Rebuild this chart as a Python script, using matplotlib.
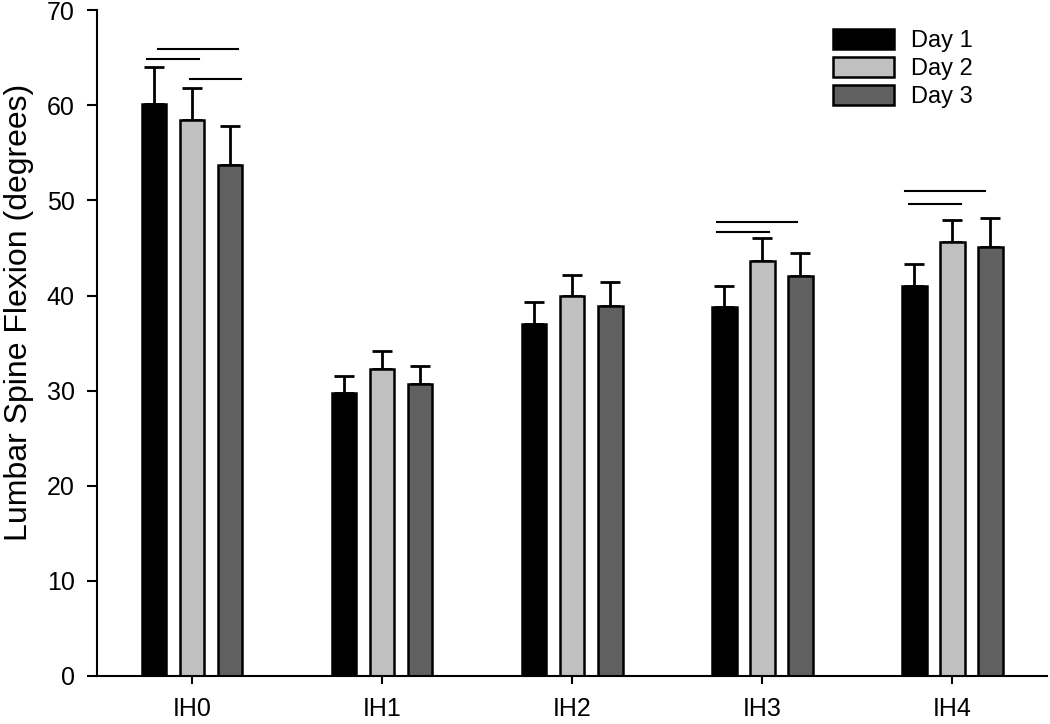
import numpy as np
import matplotlib
matplotlib.use("Agg")
import matplotlib.pyplot as plt

plt.rcParams['font.family'] = ['Liberation Sans', 'DejaVu Sans']

# --- data ---
groups = ["IH0", "IH1", "IH2", "IH3", "IH4"]
days = ["Day 1", "Day 2", "Day 3"]
day1 = [60.1, 29.7, 37.0, 38.8, 41.0]
day2 = [58.5, 32.3, 40.0, 43.6, 45.6]
day3 = [53.7, 30.7, 38.9, 42.0, 45.1]
err1 = [3.9, 1.8, 2.3, 2.2, 2.3]
err2 = [3.3, 1.9, 2.2, 2.4, 2.3]
err3 = [4.1, 1.9, 2.5, 2.5, 3.0]
colors = ["#000000", "#c0c0c0", "#606060"]

# significance bars: (group index, x start offset, x end offset, y)
sig_group = [0, 0, 0, 3, 3, 4, 4]
sig_x0 = [-0.237, -0.18, -0.01, -0.237, -0.237, -0.247, -0.226]
sig_x1 = [0.037, 0.24, 0.26, 0.184, 0.037, 0.174, 0.047]
sig_y = [64.85, 65.9, 62.75, 47.7, 46.7, 51.0, 49.6]

fig = plt.figure(figsize=(10.5, 7.24), dpi=100)
ax = fig.add_axes([0.0924, 0.0663, 0.905, 0.9197])

x = np.arange(len(groups))
offsets = [-0.2, 0.0, 0.2]
width = 0.13
for vals, errs, col, off, lab in zip([day1, day2, day3], [err1, err2, err3],
                                     colors, offsets, days):
    ax.bar(x + off, vals, width, color=col, edgecolor="black", linewidth=1.8,
           label=lab, zorder=2)
    ax.errorbar(x + off, vals, yerr=[np.zeros(len(vals)), errs], fmt="none",
                ecolor="black", elinewidth=2, capsize=7, capthick=2, zorder=1)

for g, a, b, yy in zip(sig_group, sig_x0, sig_x1, sig_y):
    ax.plot([g + a, g + b], [yy, yy], color="black", linewidth=1.5)

ax.set_xlim(-0.5, 4.5)
ax.set_ylim(0, 70)
ax.set_yticks(np.arange(0, 71, 10))
ax.set_xticks(x)
ax.set_xticklabels(groups)
ax.tick_params(axis="y", labelsize=18, length=7, width=1.5, direction="out", pad=9)
ax.tick_params(axis="x", labelsize=18, length=6, width=1.5, direction="out", pad=9)
ax.set_ylabel("Lumbar Spine Flexion (degrees)", fontsize=23)
ax.yaxis.set_label_coords(-0.066, 0.546)

for s in ["top", "right"]:
    ax.spines[s].set_visible(False)
for s in ["left", "bottom"]:
    ax.spines[s].set_linewidth(1.5)

ax.legend(loc="upper left", bbox_to_anchor=(0.774, 0.972), frameon=False,
          fontsize=17, handlelength=2.6, handleheight=0.93, labelspacing=0.2,
          handletextpad=0.72, borderpad=0, borderaxespad=0)

fig.savefig("out.png", dpi=100)
